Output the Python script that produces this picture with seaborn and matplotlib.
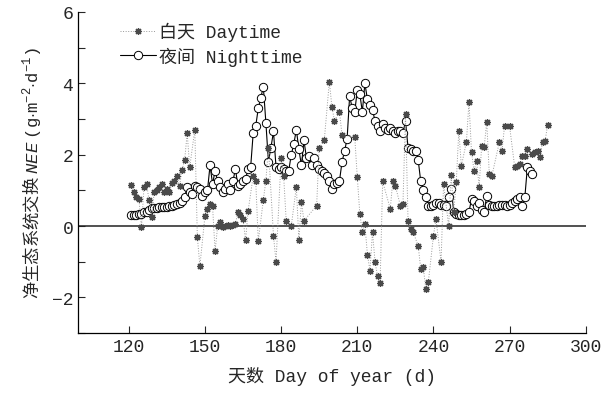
import numpy as np
import pandas as pd
import matplotlib
matplotlib.use("Agg")
import matplotlib.pyplot as plt
import seaborn as sns
from matplotlib.ticker import MultipleLocator

# ── Data ───────────────────────────────────────────────────────
day_doy = [121, 122, 123, 124, 125, 126, 127, 128, 129, 130, 131, 132, 133, 134,
           135, 136, 137, 138, 139, 140, 141, 142, 143, 144, 146, 147, 148, 150,
           151, 152, 153, 154, 155, 156, 157, 158, 159, 160, 161, 162, 163, 164,
           165, 166, 167, 169, 170, 171, 173, 174, 175, 177, 178, 180, 181, 182,
           184, 186, 187, 188, 189, 194, 195, 197, 199, 200, 201, 203, 204, 209,
           210, 211, 212, 213, 214, 215, 216, 217, 218, 219, 220, 223, 224, 225,
           227, 228, 229, 230, 231, 232, 234, 235, 236, 237, 238, 240, 241, 243,
           244, 246, 247, 248, 249, 250, 251, 253, 254, 255, 256, 257, 258, 259,
           260, 261, 262, 263, 266, 267, 268, 270, 272, 273, 274, 275, 276, 277,
           279, 280, 281, 282, 283, 284, 285]
day_nee = [1.15, 0.95, 0.80, 0.75, -0.03, 1.10, 1.18, 0.72, 0.25, 0.95, 1.00, 1.10, 1.18, 0.95,
           1.05, 0.95, 1.20, 1.25, 1.40, 1.12, 1.58, 1.85, 2.60, 1.65, 2.70, -0.30, -1.12, 0.28,
           0.48, 0.62, 0.55, -0.70, 0.00, 0.10, -0.03, 0.00, 0.02, 0.00, 0.03, 0.05, 0.40, 0.30,
           0.20, -0.40, 0.42, 1.40, 1.27, -0.42, 0.73, 1.27, 2.20, -0.28, -1.00, 1.90, 1.40, 0.15,
           0.00, 1.10, -0.40, 0.67, 0.15, 0.57, 2.20, 2.40, 4.05, 3.35, 2.95, 3.20, 2.55, 2.50,
           1.38, 0.35, -0.17, 0.05, -0.80, -1.25, -0.17, -1.00, -1.40, -1.60, 1.25, 0.48, 1.27, 1.12,
           0.57, 0.62, 3.15, 0.15, -0.08, -0.17, -0.55, -1.20, -1.15, -1.77, -1.57, -0.28, 0.20, -1.00,
           1.18, 0.00, 1.43, 0.40, 1.23, 2.67, 1.68, 2.36, 3.48, 2.08, 1.55, 1.83, 1.10, 2.25,
           2.22, 2.92, 1.46, 1.40, 2.36, 2.10, 2.80, 2.80, 1.66, 1.68, 1.74, 1.97, 1.97, 2.16,
           2.02, 2.08, 2.10, 1.94, 2.36, 2.39, 2.84]

night_doy = list(range(121, 280))
night_nee = [0.30, 0.30, 0.32, 0.33, 0.35, 0.38, 0.40, 0.45, 0.50, 0.50,   # 121-130
             0.50, 0.52, 0.52, 0.52, 0.53, 0.55, 0.57, 0.60, 0.62, 0.65,   # 131-140
             0.70, 0.80, 1.10, 0.95, 0.90, 1.12, 1.10, 1.05, 0.85, 0.95,   # 141-150
             1.00, 1.70, 1.18, 1.55, 1.25, 1.10, 0.95, 1.05, 1.18, 1.00,   # 151-160
             1.25, 1.60, 1.12, 1.18, 1.25, 1.32, 1.60, 1.65, 2.60, 2.80,   # 161-170
             3.30, 3.60, 3.90, 2.90, 1.80, 2.20, 2.65, 1.65, 1.60, 1.65,   # 171-180
             1.60, 1.55, 1.55, 2.00, 2.30, 2.70, 2.15, 1.70, 2.40, 1.90,   # 181-190
             1.95, 1.70, 1.90, 1.70, 1.60, 1.55, 1.50, 1.40, 1.25, 1.05,   # 191-200
             1.18, 1.20, 1.27, 1.80, 2.10, 2.45, 3.65, 3.30, 3.20, 3.80,   # 201-210
             3.70, 3.20, 4.00, 3.55, 3.40, 3.25, 2.95, 2.80, 2.65, 2.85,   # 211-220
             2.75, 2.70, 2.75, 2.65, 2.60, 2.65, 2.65, 2.60, 2.95, 2.20,   # 221-230
             2.15, 2.10, 2.10, 1.85, 1.25, 1.00, 0.80, 0.55, 0.55, 0.60,   # 231-240
             0.65, 0.65, 0.60, 0.60, 0.55, 0.80, 1.05, 0.40, 0.35, 0.30,   # 241-250
             0.30, 0.32, 0.35, 0.40, 0.75, 0.70, 0.55, 0.65, 0.45, 0.40,   # 251-260
             0.85, 0.60, 0.55, 0.55, 0.55, 0.58, 0.60, 0.60, 0.55, 0.58,   # 261-270
             0.65, 0.70, 0.75, 0.80, 0.55, 0.80, 1.65, 1.55, 1.45]         # 271-279

# ── Style ──────────────────────────────────────────────────────
sns.set_style("ticks")
FONT = ["Liberation Mono", "Noto Sans CJK SC"]
plt.rcParams.update({
    "font.family": FONT,
    "mathtext.fontset": "custom",
    "mathtext.rm": "Liberation Mono",
    "mathtext.it": "Liberation Mono:italic",
    "xtick.direction": "in",
    "ytick.direction": "in",
})

df_day = pd.DataFrame({"doy": day_doy, "nee": day_nee})
df_night = pd.DataFrame({"doy": night_doy, "nee": night_nee})

fig = plt.figure(figsize=(6.02, 4.02), dpi=100)
ax = fig.add_axes([0.1296, 0.169, 0.8434, 0.7987])

ax.axhline(0, color="#222222", lw=1.1, zorder=1)

sns.lineplot(data=df_day, x="doy", y="nee", ax=ax, estimator=None, sort=False,
             color="#999999", lw=0.7, ls=":", marker=(8, 2, 0), markersize=5,
             markeredgecolor="#4a4a4a", markerfacecolor="#4a4a4a",
             markeredgewidth=0.9, label="白天 Daytime", zorder=3)
sns.lineplot(data=df_night, x="doy", y="nee", ax=ax, estimator=None, sort=False,
             color="black", lw=0.8, marker="o", markersize=6,
             markerfacecolor="white", markeredgecolor="black",
             markeredgewidth=0.7, label="夜间 Nighttime", zorder=2)

ax.set_xlim(100, 300)
ax.set_ylim(-3, 6)
ax.set_xticks(range(120, 301, 30))
ax.set_yticks([-2, 0, 2, 4, 6])
ax.yaxis.set_minor_locator(MultipleLocator(1))
ax.tick_params(axis="both", which="major", length=5, width=0.8, labelsize=13)
ax.tick_params(axis="y", which="minor", length=5, width=0.8)

sns.despine(ax=ax)
for s in ["left", "bottom"]:
    ax.spines[s].set_linewidth(0.9)
    ax.spines[s].set_color("black")

ax.set_xlabel("天数 Day of year (d)", fontsize=13, family=FONT, labelpad=8)
ax.set_ylabel("净生态系统交换 $\\mathit{NEE}$ $\\mathrm{(g{\\cdot}m^{-2}{\\cdot}d^{-1})}$",
              fontsize=12.5, family="Noto Sans CJK SC", labelpad=6)

ax.legend(loc="upper left", bbox_to_anchor=(0.05, 1.02), frameon=False,
          prop={"family": FONT, "size": 13}, handlelength=2.0,
          handletextpad=0.2, labelspacing=0.3)

fig.savefig("out.png", dpi=100)
